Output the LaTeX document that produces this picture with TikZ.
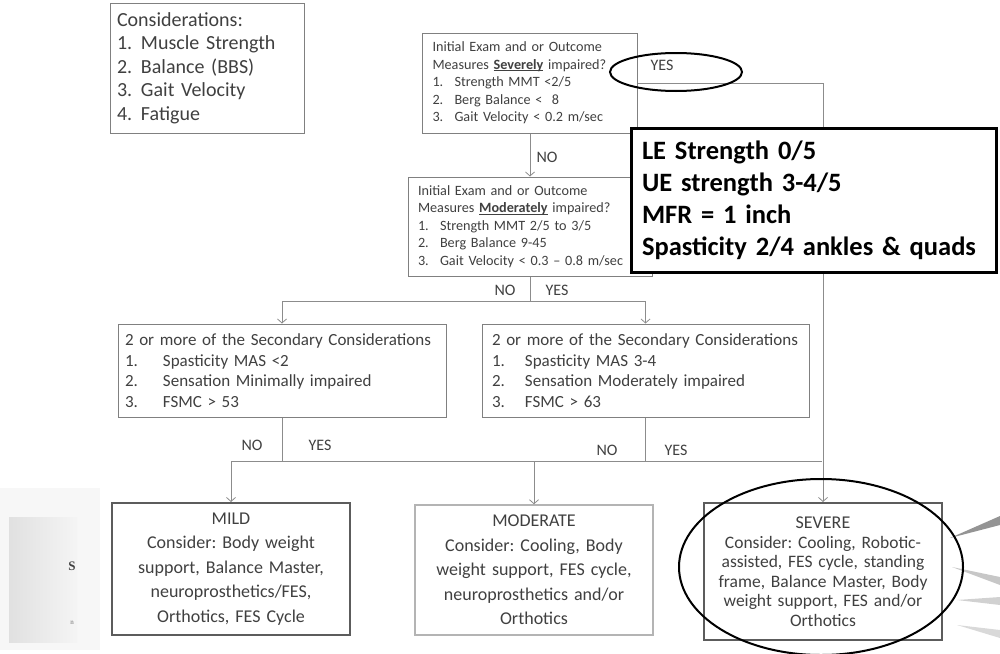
\documentclass[tikz,border=0pt]{standalone}
\usepackage{fontspec}
\setmainfont{Carlito}
\newfontfamily\logofont{Liberation Serif}
\usepackage{xcolor}
\usepackage{tikz}
\usetikzlibrary{arrows.meta,calc,positioning,shapes.geometric}
\frenchspacing
\definecolor{ink}{RGB}{64,64,64}
\definecolor{rulegray}{RGB}{128,128,128}
\definecolor{framegray}{RGB}{92,92,92}
\definecolor{lightframe}{RGB}{180,180,180}
\definecolor{flowgray}{RGB}{140,140,140}
\newcommand{\li}[3][22pt]{\makebox[#1][l]{#2}#3}
\newcommand{\keyword}[1]{\setbox0\hbox{\textbf{#1}}\rlap{\rule[-2pt]{\wd0}{0.9pt}}\box0\relax}
\tikzset{
  flow/.style={-{Straight Barb[length=4pt,width=9pt]},line width=0.8pt,draw=flowgray},
  link/.style={line width=0.8pt,draw=flowgray},
  crit/.style={draw=rulegray,line width=1pt,fill=white,align=left,inner sep=0pt,text=ink,font=\fontsize{14.2}{17.5}\selectfont},
  second/.style={draw=rulegray,line width=1pt,fill=white,align=left,inner sep=0pt,text=ink,font=\fontsize{17}{20.5}\selectfont},
  result/.style={draw=framegray,line width=2pt,fill=white,align=center,inner sep=0pt,text=ink,font=\fontsize{18}{24.5}\selectfont},
  callout/.style={draw=black,line width=3pt,fill=white,align=left,inner sep=0pt,text=black,font=\fontsize{26.5}{32}\selectfont\bfseries},
  ring/.style={draw=black,line width=2pt,ellipse,inner sep=0pt},
  answer/.style={text=ink,inner sep=0pt,font=\fontsize{16}{18}\selectfont}
}

\begin{document}
\begin{tikzpicture}[x=1pt,y=-1pt]
  \useasboundingbox (0,0) rectangle (1000,653);
  % logo remains at the edges
  \fill[black!3] (0,488) rectangle (100,650);
  \shade[left color=black!12,right color=black!4] (9,517) rectangle (77,642);
  \node[text=black!75,font=\logofont\fontsize{13}{13}\selectfont\bfseries] (logos) at (72,566) {S};
  \node[text=black!55,font=\logofont\fontsize{7}{7}\selectfont] (logon) at (72,623) {n};
  \fill[black!42] (950,538) -- (1000,516) -- (1000,525) -- cycle;
  \fill[black!22] (952,567) -- (1000,577) -- (1000,585) -- cycle;
  \fill[black!18] (957,600) -- (1000,597) -- (1000,605) -- cycle;
  \fill[black!15] (957,625) -- (1000,630) -- (1000,638) -- cycle;

  \node[crit,font=\fontsize{20}{23.5}\selectfont,minimum width=194,minimum height=130,text width=180] (cons) at (207,68) {Considerations:\\\li[24pt]{1.}{Muscle Strength}\\\li[24pt]{2.}{Balance (BBS)}\\\li[24pt]{3.}{Gait Velocity}\\\li[24pt]{4.}{Fatigue}};

  \node[crit,minimum width=215,minimum height=100,text width=195] (sev) at (530,83) {Initial Exam and or Outcome\\Measures \keyword{Severely} impaired?\\\li{1.}{Strength MMT <2/5}\\\li{2.}{Berg Balance <~~8}\\\li{3.}{Gait Velocity < 0.2 m/sec}};
  \node[crit,minimum width=244,minimum height=99,text width=224] (mod) at (530,226.5) {Initial Exam and or Outcome\\Measures \keyword{Moderately} impaired?\\\li{1.}{Strength MMT 2/5 to 3/5}\\\li{2.}{Berg Balance 9-45}\\\li{3.}{Gait Velocity < 0.3 -- 0.8 m/sec}};

  \node[second,minimum width=328,minimum height=93,text width=314] (lsec) at (282,370.5) {2 or more of the Secondary Considerations\\\li[38pt]{1.}{Spasticity MAS <2}\\\li[38pt]{2.}{Sensation Minimally impaired}\\\li[38pt]{3.}{FSMC > 53}};
  \node[second,minimum width=327,minimum height=93,text width=307] (rsec) at (645.5,370.5) {2 or more of the Secondary Considerations\\\li[33pt]{1.}{Spasticity MAS 3-4}\\\li[33pt]{2.}{Sensation Moderately impaired}\\\li[33pt]{3.}{FSMC > 63}};

  \node[result,minimum width=238,minimum height=132,text width=230] (mild) at (231,569) {MILD\\Consider: Body weight\\support, Balance Master,\\neuroprosthetics/FES,\\Orthotics, FES Cycle};
  \node[result,draw=lightframe,line width=1.5pt,minimum width=238,minimum height=130,text width=230] (moder) at (534,570) {MODERATE\\Consider: Cooling, Body\\weight support, FES cycle,\\neuroprosthetics and/or\\Orthotics};
  \node[result,font=\fontsize{17.5}{19.5}\selectfont,minimum width=238,minimum height=137,text width=234] (severe) at (823,571.5) {{\fontsize{18}{22}\selectfont SEVERE}\\Consider: Cooling, Robotic-\\assisted, FES cycle, standing\\frame, Balance Master, Body\\weight support, FES and/or\\Orthotics};

  % decision paths
  \draw[flow] (sev.south) -- (mod.north);
  \node[answer] (no1) at (547,157) {NO};
  \draw[flow] (sev.east) -| (severe.north);
  \node[answer] (yes1) at (662,65) {YES};
  \node[ring,minimum width=132,minimum height=38] (yesring) at (676,72) {};

  \coordinate (split) at (530,301);
  \draw[link] (mod.south) -- (split);
  \draw[flow] (split) -| (lsec.north);
  \draw[flow] (split) -| (rsec.north);
  \node[answer] (no2) at (505,290) {NO};
  \node[answer] (yes2) at (557,290) {YES};

  \coordinate (join) at (822,461);
  \draw[link] (lsec.south) -- (lsec.south |- join);
  \draw[link] (rsec.south) -- (rsec.south |- join);
  \draw[flow] (join) -| (mild.north);
  \draw[flow] (moder.north |- join) -- (moder.north);
  \node[answer] (no3) at (252,445) {NO};
  \node[answer] (yes3) at (320,445) {YES};
  \node[answer] (no4) at (607,450) {NO};
  \node[answer] (yes4) at (676,450) {YES};

  % case findings over the YES path
  \node[callout,minimum width=365,minimum height=144,text width=343] (findings) at (813.5,200) {LE Strength 0/5\\UE strength 3-4/5\\MFR = 1 inch\\Spasticity 2/4 ankles \& quads};
  \node[ring,minimum width=284,minimum height=176] (severering) at (821,567) {};
\end{tikzpicture}
\end{document}
